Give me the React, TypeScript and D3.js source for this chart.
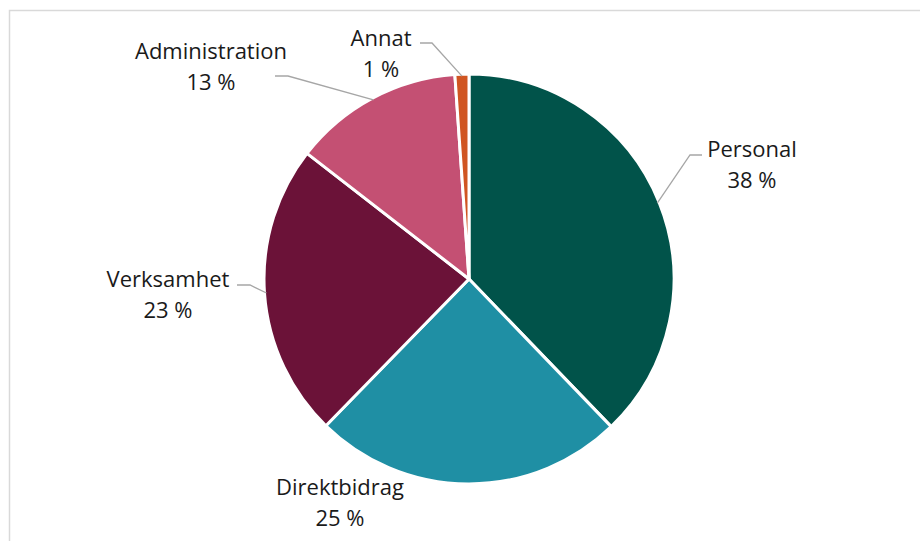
import * as d3 from "d3";

const WIDTH = 920;
const HEIGHT = 541;

// slice order clockwise from 12 o'clock
const categories = ["Personal", "Direktbidrag", "Verksamhet", "Administration", "Annat"];
const shares = [37.8, 24.5, 23.2, 13.4, 1.1];
const colors = ["#01534a", "#1f8fa4", "#6b1238", "#c45073", "#d05522"];

// label anchors (centre of text, first baseline) and leader line pieces
const labelPos: [number, number][] = [
    [752, 157],
    [340, 495],
    [168, 287],
    [211, 59],
    [381, 46],
];
const leaderStart: ([number, number] | null)[] = [
    [702, 155],
    null,
    [237, 285],
    [275, 76],
    [420, 43],
];
const leaderElbow: ([number, number] | null)[] = [
    [690, 155],
    null,
    [250, 285],
    [288, 76],
    [432, 43],
];

const CX = 469;
const CY = 279;
const R = 205;
const FONT = "'Open Sans', 'Noto Sans', sans-serif";

interface Slice {
    name: string;
    value: number;
    color: string;
}

export default function App() {
    const data: Slice[] = categories.map((c, i) => ({ name: c, value: shares[i], color: colors[i] }));
    const pie = d3
        .pie<Slice>()
        .sort(null)
        .value((d) => d.value);
    const arcs = pie(data);
    const arcGen = d3.arc<d3.PieArcDatum<Slice>>().innerRadius(0).outerRadius(R);
    const edge = d3.arc<d3.PieArcDatum<Slice>>().innerRadius(R - 2).outerRadius(R - 2);

    return (
        <svg width={WIDTH} height={HEIGHT} style={{ position: "absolute", left: 0, top: 0 }}>
            <rect x={0} y={0} width={WIDTH} height={HEIGHT} fill="#fff" />
            <path d={`M9.5,${HEIGHT} V10.5 H${WIDTH}`} fill="none" stroke="#d9d9d9" strokeWidth={1.5} />
            <g transform={`translate(${CX},${CY})`}>
                {arcs.map((a, i) => (
                    <path key={i} d={arcGen(a) as string} fill={a.data.color} stroke="#fff" strokeWidth={3} strokeLinejoin="round" />
                ))}
            </g>
            {arcs.map((a, i) => {
                const s = leaderStart[i];
                const e = leaderElbow[i];
                if (!s || !e) return null;
                const [px, py] = edge.centroid(a);
                return (
                    <polyline
                        key={"l" + i}
                        points={`${s[0]},${s[1]} ${e[0]},${e[1]} ${CX + px},${CY + py}`}
                        fill="none"
                        stroke="#a6a6a6"
                        strokeWidth={1.3}
                    />
                );
            })}
            {arcs.map((a, i) => (
                <text key={"t" + i} x={labelPos[i][0]} y={labelPos[i][1]} textAnchor="middle" fontFamily={FONT} fontSize={22} fill="#1a1a1a">
                    <tspan x={labelPos[i][0]}>{a.data.name}</tspan>
                    <tspan x={labelPos[i][0]} dy={31}>{`${Math.round(a.data.value)} %`}</tspan>
                </text>
            ))}
        </svg>
    );
}
